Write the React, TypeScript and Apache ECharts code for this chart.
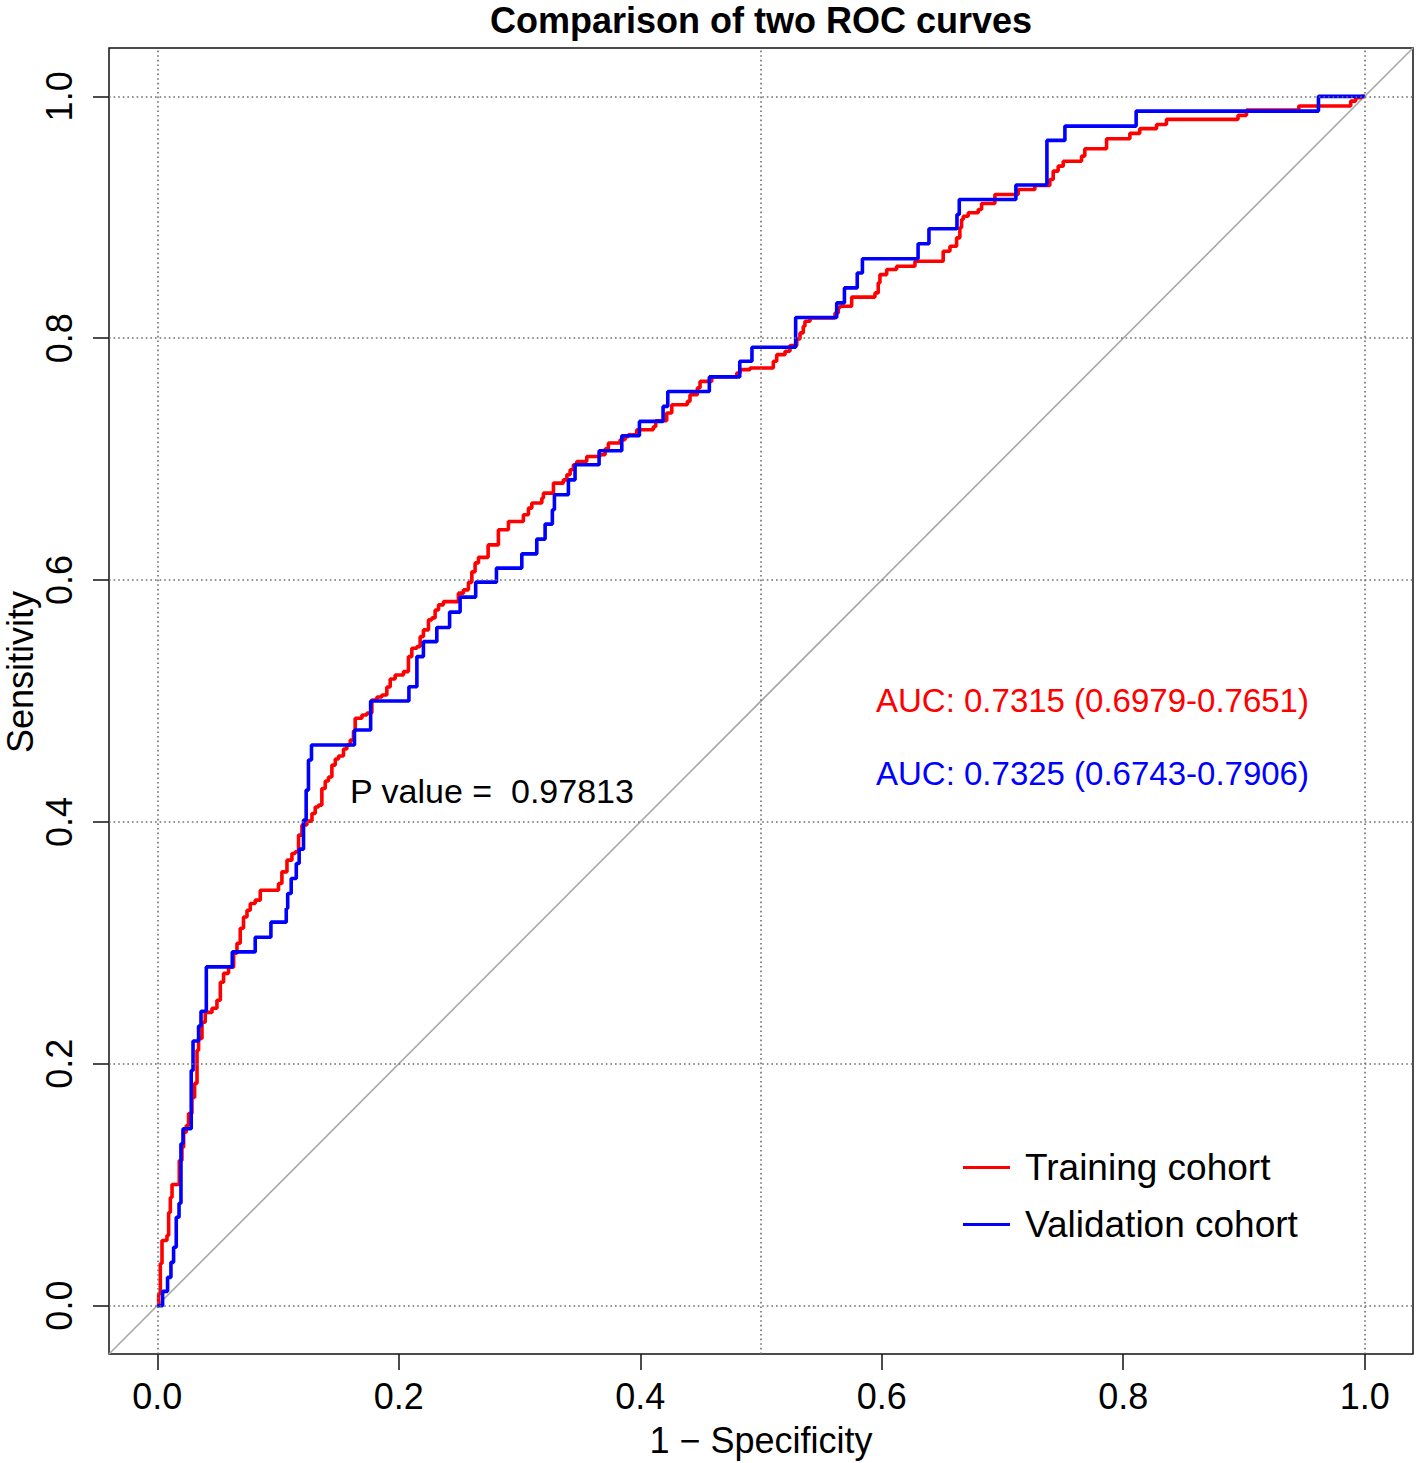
import React, { useEffect, useRef } from 'react';
import * as echarts from 'echarts';

const FONT = '"Liberation Sans", Arial, Helvetica, sans-serif';

const tickValues = [0, 0.2, 0.4, 0.6, 0.8, 1.0];
const hGridValues = [0, 0.2, 0.4, 0.6, 0.8, 1.0];
const vGridValues = [0, 0.5, 1.0];
const diagonalX = [-0.04, 1.04];

const legendNames = ['Training cohort', 'Validation cohort'];
const titleText = 'Comparison of two ROC curves';
const xTitle = '1 \u2212 Specificity';
const yTitle = 'Sensitivity';
const pValueText = 'P value =  0.97813';
const aucTrainText = 'AUC: 0.7315 (0.6979-0.7651)';
const aucValidText = 'AUC: 0.7325 (0.6743-0.7906)';

// Training cohort ROC step vertices (1 - specificity, sensitivity)
const trainFpr = [0, 0.0011, 0.0025, 0.0039, 0.0080, 0.0094, 0.0108, 0.0122, 0.0182, 0.0204,
  0.0218, 0.0240, 0.0259, 0.0287, 0.0309, 0.0329, 0.0342, 0.0370, 0.0397, 0.0453,
  0.0494, 0.0522, 0.0549, 0.0590, 0.0632, 0.0660, 0.0687, 0.0714, 0.0743, 0.0770,
  0.0811, 0.0853, 0.1004, 0.1032, 0.1074, 0.1115, 0.1142, 0.1170, 0.1198, 0.1239,
  0.1281, 0.1308, 0.1335, 0.1363, 0.1391, 0.1418, 0.1446, 0.1474, 0.1501, 0.1542,
  0.1570, 0.1598, 0.1625, 0.1639, 0.1695, 0.1736, 0.1777, 0.1819, 0.1860, 0.1901,
  0.1929, 0.1970, 0.2039, 0.2080, 0.2108, 0.2150, 0.2177, 0.2204, 0.2246, 0.2274,
  0.2301, 0.2329, 0.2370, 0.2494, 0.2536, 0.2577, 0.2605, 0.2632, 0.2660, 0.2740,
  0.2825, 0.2908, 0.3032, 0.3074, 0.3102, 0.3185, 0.3198, 0.3281, 0.3363, 0.3392,
  0.3419, 0.3446, 0.3474, 0.3557, 0.3667, 0.3709, 0.3736, 0.3833, 0.3874, 0.3901,
  0.3971, 0.4108, 0.4128, 0.4219, 0.4261, 0.4390, 0.4412, 0.4473, 0.4495, 0.4592,
  0.4799, 0.4826, 0.4909, 0.5102, 0.5130, 0.5199, 0.5240, 0.5296, 0.5323, 0.5350,
  0.5364, 0.5406, 0.5613, 0.5640, 0.5654, 0.5751, 0.5944, 0.5971, 0.5985, 0.6041,
  0.6123, 0.6275, 0.6509, 0.6565, 0.6620, 0.6647, 0.6661, 0.6675, 0.6716, 0.6799,
  0.6827, 0.6937, 0.7130, 0.7268, 0.7392, 0.7420, 0.7461, 0.7503, 0.7655, 0.7682,
  0.7862, 0.8055, 0.8137, 0.8276, 0.8358, 0.8951, 0.9021, 0.9454, 0.9884, 0.9925,
  0.9973, 1.0];
const trainTpr = [0, 0.0099, 0.0348, 0.0538, 0.0579, 0.0770, 0.0894, 0.1002, 0.1200, 0.1310,
  0.1435, 0.1490, 0.1589, 0.1722, 0.1838, 0.2111, 0.2210, 0.2343, 0.2425, 0.2459,
  0.2525, 0.2674, 0.2748, 0.2798, 0.2914, 0.2997, 0.3121, 0.3214, 0.3270, 0.3325,
  0.3353, 0.3435, 0.3491, 0.3587, 0.3684, 0.3739, 0.3753, 0.3891, 0.3974, 0.4007,
  0.4070, 0.4123, 0.4139, 0.4277, 0.4338, 0.4371, 0.4470, 0.4520, 0.4545, 0.4603,
  0.4636, 0.4677, 0.4752, 0.4857, 0.4884, 0.4901, 0.5008, 0.5033, 0.5050, 0.5116,
  0.5182, 0.5215, 0.5243, 0.5367, 0.5436, 0.5450, 0.5532, 0.5588, 0.5671, 0.5687,
  0.5753, 0.5795, 0.5822, 0.5892, 0.5919, 0.5981, 0.6068, 0.6142, 0.6188, 0.6291,
  0.6416, 0.6484, 0.6540, 0.6595, 0.6637, 0.6678, 0.6719, 0.6802, 0.6829, 0.6871,
  0.6912, 0.6954, 0.6981, 0.7022, 0.7036, 0.7086, 0.7133, 0.7161, 0.7185, 0.7202,
  0.7243, 0.7268, 0.7318, 0.7382, 0.7450, 0.7478, 0.7533, 0.7589, 0.7643, 0.7682,
  0.7713, 0.7740, 0.7754, 0.7809, 0.7864, 0.7892, 0.7939, 0.7993, 0.8044, 0.8099,
  0.8140, 0.8168, 0.8209, 0.8251, 0.8264, 0.8340, 0.8375, 0.8458, 0.8526, 0.8568,
  0.8595, 0.8637, 0.8719, 0.8761, 0.8830, 0.8913, 0.8982, 0.9009, 0.9037, 0.9065,
  0.9114, 0.9189, 0.9230, 0.9263, 0.9313, 0.9382, 0.9423, 0.9464, 0.9506, 0.9567,
  0.9650, 0.9694, 0.9733, 0.9768, 0.9810, 0.9843, 0.9887, 0.9920, 0.9961, 0.9989,
  1.0, 1.0];

// Validation cohort ROC step vertices
const validFpr = [0, 0.0044, 0.0085, 0.0113, 0.0135, 0.0157, 0.0180, 0.0196, 0.0213, 0.0281,
  0.0296, 0.0342, 0.0362, 0.0406, 0.0621, 0.0811, 0.0941, 0.1068, 0.1080, 0.1109,
  0.1151, 0.1175, 0.1211, 0.1233, 0.1252, 0.1277, 0.1633, 0.1767, 0.2084, 0.2150,
  0.2204, 0.2315, 0.2421, 0.2508, 0.2637, 0.2809, 0.3019, 0.3143, 0.3212, 0.3272,
  0.3289, 0.3405, 0.3460, 0.3659, 0.3847, 0.3993, 0.4189, 0.4228, 0.4572, 0.4824,
  0.4925, 0.5287, 0.5627, 0.5691, 0.5797, 0.5840, 0.6301, 0.6391, 0.6623, 0.6642,
  0.7111, 0.7368, 0.7517, 0.8107, 0.9617, 1.0];
const validTpr = [0, 0.0118, 0.0234, 0.0358, 0.0483, 0.0731, 0.0847, 0.1339, 0.1463, 0.1945,
  0.2188, 0.2312, 0.2434, 0.2801, 0.2925, 0.3046, 0.3171, 0.3284, 0.3408, 0.3532,
  0.3656, 0.3775, 0.4015, 0.4263, 0.4512, 0.4636, 0.4760, 0.5000, 0.5118, 0.5367,
  0.5491, 0.5608, 0.5735, 0.5859, 0.5983, 0.6099, 0.6217, 0.6339, 0.6463, 0.6581,
  0.6705, 0.6829, 0.6954, 0.7070, 0.7194, 0.7312, 0.7436, 0.7560, 0.7680, 0.7809,
  0.7925, 0.8171, 0.8292, 0.8416, 0.8539, 0.8657, 0.8781, 0.8905, 0.9023, 0.9147,
  0.9267, 0.9636, 0.9754, 0.9878, 1.0, 1.0];

const zip = (xs: number[], ys: number[]) => xs.map((x, i) => [x, ys[i]]);

export default function App() {
  const ref = useRef<HTMLDivElement>(null);
  useEffect(() => {
    if (!ref.current) return;
    const chart = echarts.init(ref.current, null, { renderer: 'svg' });
    const gridLine = { color: '#6e6e6e', width: 1.6, type: [1.6, 3] as any };
    const option: any = {
      animation: false,
      backgroundColor: '#ffffff',
      textStyle: { fontFamily: FONT },
      grid: {
        left: 109, top: 48, width: 1304, height: 1306,
        show: true, borderColor: '#111', borderWidth: 1.5, backgroundColor: 'transparent',
      },
      xAxis: {
        type: 'value', min: -0.04, max: 1.04,
        axisLine: { show: false, onZero: false },
        splitLine: { show: false },
        axisTick: { show: true, customValues: tickValues, length: 16, lineStyle: { color: '#111', width: 1.5 } },
        axisLabel: {
          customValues: tickValues, formatter: (v: number) => v.toFixed(1),
          fontSize: 36, color: '#000', margin: 24, fontFamily: FONT,
        },
      },
      yAxis: {
        type: 'value', min: -0.04, max: 1.04,
        axisLine: { show: false, onZero: false },
        splitLine: { show: false },
        axisTick: { show: true, customValues: tickValues, length: 16, lineStyle: { color: '#111', width: 1.5 } },
        axisLabel: {
          customValues: tickValues, formatter: (v: number) => v.toFixed(1),
          fontSize: 36, color: '#000', margin: 32, rotate: 90,
          align: 'center', verticalAlign: 'bottom', fontFamily: FONT,
        },
      },
      legend: {
        data: legendNames, orient: 'vertical', left: 963, top: 1149,
        itemWidth: 47, itemHeight: 3, icon: 'rect', itemGap: 20, padding: 0,
        textStyle: { fontSize: 37, lineHeight: 37, color: '#000', fontFamily: FONT, padding: [0, 0, 0, 10] },
      },
      series: [
        {
          name: 'diagonal', type: 'line', symbol: 'none', silent: true, z: 1,
          data: zip(diagonalX, diagonalX),
          lineStyle: { color: '#a8a8a8', width: 1.6 },
          markLine: {
            silent: true, symbol: ['none', 'none'], label: { show: false },
            lineStyle: gridLine,
            data: [
              ...hGridValues.map((v) => ({ yAxis: v })),
              ...vGridValues.map((v) => ({ xAxis: v })),
            ],
          },
        },
        {
          name: legendNames[0], type: 'line', step: 'end', symbol: 'none', z: 3,
          color: '#ff0000',
          data: zip(trainFpr, trainTpr),
          lineStyle: { color: '#ff0000', width: 3.6 },
        },
        {
          name: legendNames[1], type: 'line', step: 'end', symbol: 'none', z: 4,
          color: '#0000ff',
          data: zip(validFpr, validTpr),
          lineStyle: { color: '#0000ff', width: 3.6 },
        },
      ],
      graphic: [
        { type: 'text', x: 761, y: 20, style: { text: titleText, fill: '#000', font: `bold 36px ${FONT}`, align: 'center', verticalAlign: 'middle' } },
        { type: 'text', x: 761, y: 1440, style: { text: xTitle, fill: '#000', font: `36px ${FONT}`, align: 'center', verticalAlign: 'middle' } },
        { type: 'text', x: 20, y: 672, rotation: Math.PI / 2, style: { text: yTitle, fill: '#000', font: `36px ${FONT}`, align: 'center', verticalAlign: 'middle' } },
        { type: 'text', x: 350, y: 791, style: { text: pValueText, fill: '#000', font: `34px ${FONT}`, align: 'left', verticalAlign: 'middle' } },
        { type: 'text', x: 876, y: 700, style: { text: aucTrainText, fill: '#ff0000', font: `33px ${FONT}`, align: 'left', verticalAlign: 'middle' } },
        { type: 'text', x: 876, y: 773, style: { text: aucValidText, fill: '#0000ff', font: `33px ${FONT}`, align: 'left', verticalAlign: 'middle' } },
      ],
    };
    chart.setOption(option);
    return () => chart.dispose();
  }, []);
  return (
    <div ref={ref} style={{ position: 'absolute', left: 0, top: 0, width: 1416, height: 1463, background: '#fff' }} />
  );
}
